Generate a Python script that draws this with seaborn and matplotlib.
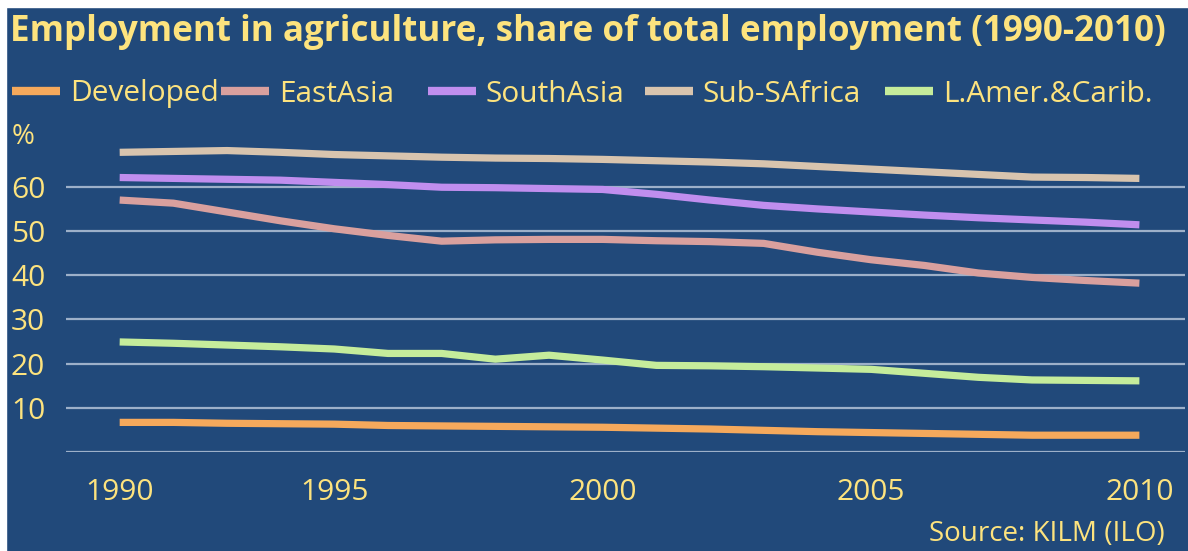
import matplotlib
matplotlib.use("Agg")
import matplotlib.pyplot as plt
import matplotlib.patches as mpatches
import pandas as pd
import seaborn as sns

years = list(range(1991, 2011))

developed = [6.7, 6.7, 6.5, 6.4, 6.3, 6.0, 5.9, 5.8, 5.7, 5.6,
             5.4, 5.2, 4.9, 4.6, 4.4, 4.2, 4.0, 3.8, 3.8, 3.8]
east_asia = [57.0, 56.3, 54.3, 52.3, 50.5, 49.0, 47.7, 48.0, 48.1, 48.1,
             47.8, 47.6, 47.2, 45.2, 43.5, 42.2, 40.5, 39.5, 38.8, 38.2]
south_asia = [62.1, 61.9, 61.7, 61.5, 61.0, 60.5, 59.9, 59.8, 59.6, 59.4,
              58.3, 57.0, 55.8, 55.0, 54.3, 53.6, 53.0, 52.5, 52.0, 51.4]
sub_s_africa = [67.8, 68.0, 68.2, 67.8, 67.3, 67.0, 66.7, 66.5, 66.4, 66.2,
                65.9, 65.6, 65.2, 64.6, 64.0, 63.4, 62.8, 62.2, 62.1, 61.9]
latam = [24.9, 24.6, 24.2, 23.8, 23.3, 22.3, 22.3, 21.0, 21.9, 20.8,
         19.6, 19.5, 19.3, 19.0, 18.7, 17.8, 16.9, 16.3, 16.2, 16.1]

series_names = ["Developed", "EastAsia", "SouthAsia", "Sub-SAfrica", "L.Amer.&Carib."]
series_values = [developed, east_asia, south_asia, sub_s_africa, latam]
colors = ["#F5A95C", "#D9A09E", "#C08EEE", "#D8C4AE", "#C5EC9B"]

x_ticks = [1991, 1995, 2000, 2005, 2010]
x_labels = ["1990", "1995", "2000", "2005", "2010"]
y_ticks = [10, 20, 30, 40, 50, 60]

bg = "#21497A"
fg = "#FDE37E"
grid_c = "#9DB0C9"
W, H = 1188, 551

rows = []
for name, vals in zip(series_names, series_values):
    for yr, v in zip(years, vals):
        rows.append({"year": yr, "value": v, "region": name})
df = pd.DataFrame(rows)

sns.set_theme(style="white")
plt.rcParams["font.family"] = ["Open Sans", "DejaVu Sans"]

fig = plt.figure(figsize=(W / 100, H / 100), dpi=100, facecolor=bg)
# thin white margin on the top and left edges
fig.patches.append(mpatches.Rectangle((0, 1 - 7 / H), 1, 7 / H, transform=fig.transFigure,
                                      color="white", zorder=0))
fig.patches.append(mpatches.Rectangle((0, 0), 6 / W, 1, transform=fig.transFigure,
                                      color="white", zorder=0))

ax = fig.add_axes([66 / W, 99 / H, 1119 / W, 309.4 / H])
ax.set_facecolor("none")

for yv in [0] + y_ticks:
    ax.axhline(yv, color=grid_c, lw=1.6, zorder=1)

sns.lineplot(data=df, x="year", y="value", hue="region", hue_order=series_names,
             palette=colors, linewidth=5.2, ax=ax, legend=False, zorder=3)
for ln in ax.lines[-5:]:
    ln.set_solid_capstyle("butt")

ax.set_xlim(1990.0, 2010.85)
ax.set_ylim(0, 70)
ax.set_xticks(x_ticks)
ax.set_xticklabels(x_labels)
ax.set_yticks(y_ticks)
ax.tick_params(axis="both", length=0, colors=fg, labelsize=21.5)
ax.tick_params(axis="x", pad=19)
ax.tick_params(axis="y", pad=15)
ax.set_xlabel("")
ax.set_ylabel("")
for s in ax.spines.values():
    s.set_visible(False)

fig.text(10 / W, 1 - 32 / H, "Employment in agriculture, share of total employment (1990-2010)",
         color=fg, fontsize=25.2, fontweight="bold", va="center", ha="left")
fig.text(12 / W, 1 - 137 / H, "%", color=fg, fontsize=20, va="center", ha="left")
fig.text(1165 / W, 1 - 534 / H, "Source: KILM (ILO)", color=fg, fontsize=20,
         va="center", ha="right")

# one legend per entry to follow the uneven spacing of the original
leg_x = [12, 221, 428, 645, 885]
for name, c, lx in zip(series_names, colors, leg_x):
    h = plt.Line2D([], [], color=c, lw=6, solid_capstyle="butt")
    leg = fig.legend([h], [name], loc="center left", bbox_to_anchor=(lx / W, 1 - 94 / H),
                     frameon=False, fontsize=21.5, handlelength=1.6, handletextpad=0.33,
                     borderpad=0, borderaxespad=0)
    for t in leg.get_texts():
        t.set_color(fg)

fig.savefig("out.png", dpi=100, facecolor=bg)
